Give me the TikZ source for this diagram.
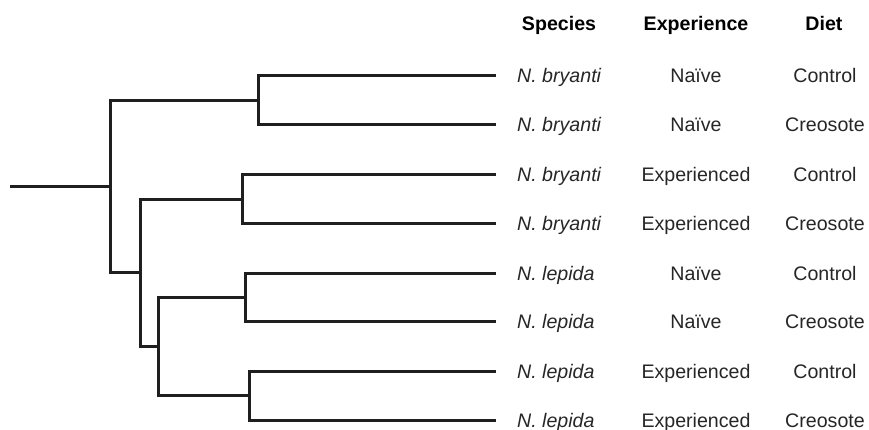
\documentclass[tikz,border=0pt]{standalone}
\usepackage{fontspec}
\setmainfont{Liberation Sans}
\usepackage{tikz}
\usetikzlibrary{positioning}

\begin{document}
\begin{tikzpicture}[x=1pt, y=-1pt, every node/.style={font=\fontsize{19.6}{22}\selectfont}]
    % Define styles
    \tikzstyle{branch} = [line width=3pt, line cap=butt, line join=miter, color=black!88]
    \tikzstyle{header} = [font=\fontsize{19.6}{22}\selectfont\bfseries, anchor=base, inner sep=0pt]
    \tikzstyle{species} = [font=\fontsize{19.6}{22}\selectfont\itshape, anchor=base west, inner sep=0pt, text=black!85]
    \tikzstyle{cell} = [anchor=base, inner sep=0pt, text=black!85]

    \useasboundingbox (0,0) rectangle (869,429);

    % Column headers
    \node (hspecies) [header] at (559,30) {Species};
    \node (hexp) [header] at (696,30) {Experience};
    \node (hdiet) [header] at (824,30) {Diet};

    % Internal nodes of the tree
    \coordinate (root) at (10,186);
    \coordinate (n0) at (110,186);
    \coordinate (nA) at (258,100);
    \coordinate (nB) at (140,272);
    \coordinate (nC) at (242,199);
    \coordinate (nD) at (158,346);
    \coordinate (nE) at (245,297);
    \coordinate (nF) at (249,395);

    % Leaves and table rows
    \foreach \i/\y/\sp/\ex/\di in {
        1/75/bryanti/Naïve/Control,
        2/124/bryanti/Naïve/Creosote,
        3/174/bryanti/Experienced/Control,
        4/223/bryanti/Experienced/Creosote,
        5/273/lepida/Naïve/Control,
        6/321/lepida/Naïve/Creosote,
        7/371/lepida/Experienced/Control,
        8/420/lepida/Experienced/Creosote}{
        \coordinate (l\i) at (496,\y);
        \node (sp\i) [species] at (517,\y+7.5) {N. \sp};
        \node (ex\i) [cell] at (696,\y+7.5) {\ex};
        \node (di\i) [cell] at (825,\y+7.5) {\di};
    }

    % Tree branches
    \draw [branch] (root) -- (n0);
    \draw [branch] (nA) -| (n0) |- (nB);
    \draw [branch] (l1) -| (nA) |- (l2);
    \draw [branch] (nC) -| (nB) |- (nD);
    \draw [branch] (l3) -| (nC) |- (l4);
    \draw [branch] (nE) -| (nD) |- (nF);
    \draw [branch] (l5) -| (nE) |- (l6);
    \draw [branch] (l7) -| (nF) |- (l8);
\end{tikzpicture}
\end{document}
